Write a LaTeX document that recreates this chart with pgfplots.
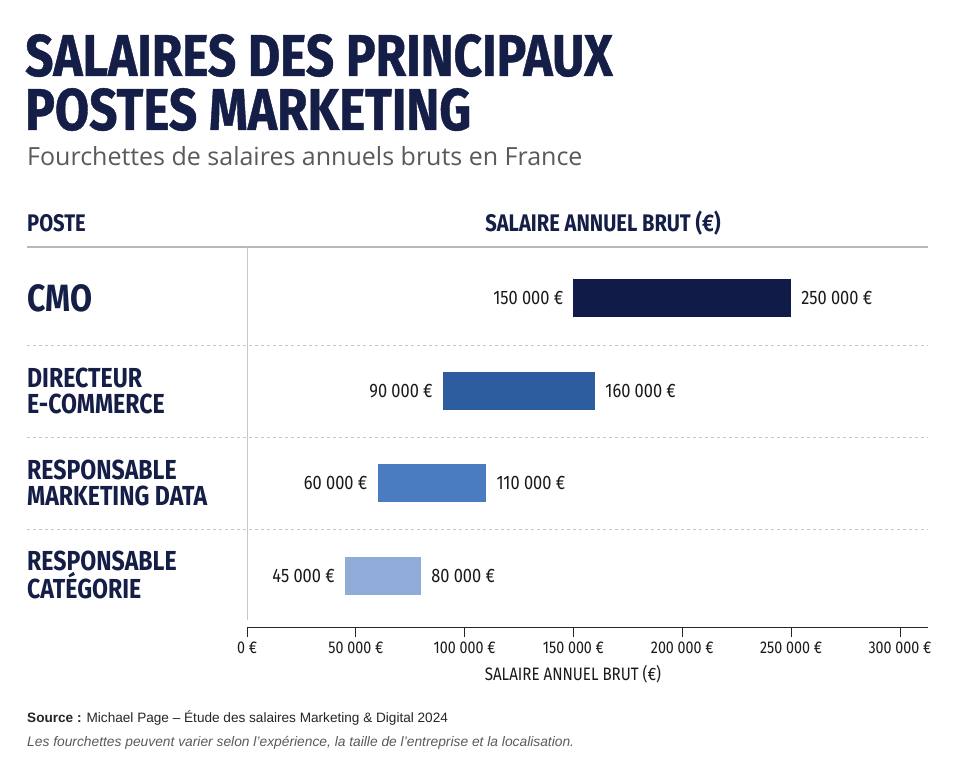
\documentclass[border=0pt]{standalone}
\usepackage{pgfplots}
\pgfplotsset{compat=1.18}
\usepackage{fontspec}
\setmainfont{Liberation Sans}
\newfontfamily\cond[FakeStretch=0.84]{Fira Sans}
\newfontfamily\titlef[FakeStretch=0.84, BoldFeatures={FakeBold=0.7}]{Fira Sans}
\newfontfamily\subf{Open Sans}
\definecolor{navy}{HTML}{141E46}
\definecolor{cmo}{HTML}{111B47}
\definecolor{dir}{HTML}{2D5C9F}
\definecolor{data}{HTML}{4A7CC2}
\definecolor{cat}{HTML}{8FABD8}
\definecolor{txtgray}{HTML}{5A5A5A}
\begin{document}
\begin{tikzpicture}[x=1pt,y=1pt]
\useasboundingbox[fill=white] (0,0) rectangle (959,768);
% title
\node[anchor=base west, inner sep=0, text=navy, font=\titlef\bfseries\fontsize{59}{59}\selectfont] at (25,692) {SALAIRES DES PRINCIPAUX};
\node[anchor=base west, inner sep=0, text=navy, font=\titlef\bfseries\fontsize{59}{59}\selectfont] at (25,638) {POSTES MARKETING};
\node[anchor=base west, inner sep=0, text=txtgray, font=\subf\fontsize{25}{25}\selectfont] at (27,602) {Fourchettes de salaires annuels bruts en France};
% headers
\node[anchor=base west, inner sep=0, text=navy, font=\cond\bfseries\fontsize{24}{24}\selectfont] at (27,536) {POSTE};
\node[anchor=base, inner sep=0, text=navy, font=\cond\bfseries\fontsize{24}{24}\selectfont] at (603,536) {SALAIRE ANNUEL BRUT (€)};
\draw[line width=1.5pt, black!28] (27,521) -- (928,521);
% separators
\foreach \yy in {423,331,239} \draw[black!22, line width=0.8pt, dash pattern=on 3pt off 3pt] (27,\yy) -- (928,\yy);
\draw[black!22, line width=0.8pt] (247,521) -- (247,148);
% category labels
\begin{scope}[every node/.style={anchor=west, inner sep=0, align=left, text=navy, font=\cond\bfseries\fontsize{27.5}{26}\selectfont}]
\node[font=\cond\bfseries\fontsize{38}{38}\selectfont] at (27,470) {CMO};
\node at (27,377) {DIRECTEUR\\E-COMMERCE};
\node at (27,285) {RESPONSABLE\\MARKETING DATA};
\node at (27,193) {RESPONSABLE\\CATÉGORIE};
\end{scope}
\begin{axis}[
  at={(247pt,141pt)}, anchor=south west, scale only axis,
  width=681pt, height=380pt,
  xmin=0, xmax=312900, ymin=-0.55, ymax=3.55, y dir=reverse,
  axis x line*=bottom, axis y line=none,
  clip=false, scaled x ticks=false,
  xtick={0,50000,100000,150000,200000,250000,300000},
  xticklabels={0 €,50 000 €,100 000 €,150 000 €,200 000 €,250 000 €,300 000 €},
  ytick=\empty,
  tick align=outside, major tick length=10pt,
  tick style={black!85, line width=0.8pt},
  x axis line style={black!85, line width=0.8pt, -},
  xticklabel style={font=\cond\fontsize{17}{17}\selectfont, text=black!90, yshift=-1pt},
  nodes near coords style={font=\cond\fontsize{19.5}{19.5}\selectfont, text=black!90, inner sep=0},
]
\addplot[fill=cmo, draw=none] coordinates {(150000,-0.205) (250000,-0.205) (250000,0.205) (150000,0.205)} -- cycle;
\addplot[fill=dir, draw=none] coordinates {(90000,0.795) (160000,0.795) (160000,1.205) (90000,1.205)} -- cycle;
\addplot[fill=data, draw=none] coordinates {(60000,1.795) (110000,1.795) (110000,2.205) (60000,2.205)} -- cycle;
\addplot[fill=cat, draw=none] coordinates {(45000,2.795) (80000,2.795) (80000,3.205) (45000,3.205)} -- cycle;
\addplot[draw=none, mark=none, nodes near coords, point meta=explicit symbolic,
  every node near coord/.append style={anchor=east, xshift=-10pt}]
  coordinates {(150000,0)[150 000 €] (90000,1)[90 000 €] (60000,2)[60 000 €] (45000,3)[45 000 €]};
\addplot[draw=none, mark=none, nodes near coords, point meta=explicit symbolic,
  every node near coord/.append style={anchor=west, xshift=10pt}]
  coordinates {(250000,0)[250 000 €] (160000,1)[160 000 €] (110000,2)[110 000 €] (80000,3)[80 000 €]};
\end{axis}
\node[anchor=base, inner sep=0, text=black!90, font=\cond\fontsize{18}{18}\selectfont] at (573,87) {SALAIRE ANNUEL BRUT (€)};
% footer
\node[anchor=base west, inner sep=0, text=black!85, font=\fontsize{13.6}{13.6}\selectfont] at (27,45) {\textbf{Source :} Michael Page – Étude des salaires Marketing \& Digital 2024};
\node[anchor=base west, inner sep=0, text=txtgray, font=\itshape\fontsize{13.8}{13.8}\selectfont] at (27,21) {Les fourchettes peuvent varier selon l'expérience, la taille de l'entreprise et la localisation.};
\end{tikzpicture}
\end{document}
